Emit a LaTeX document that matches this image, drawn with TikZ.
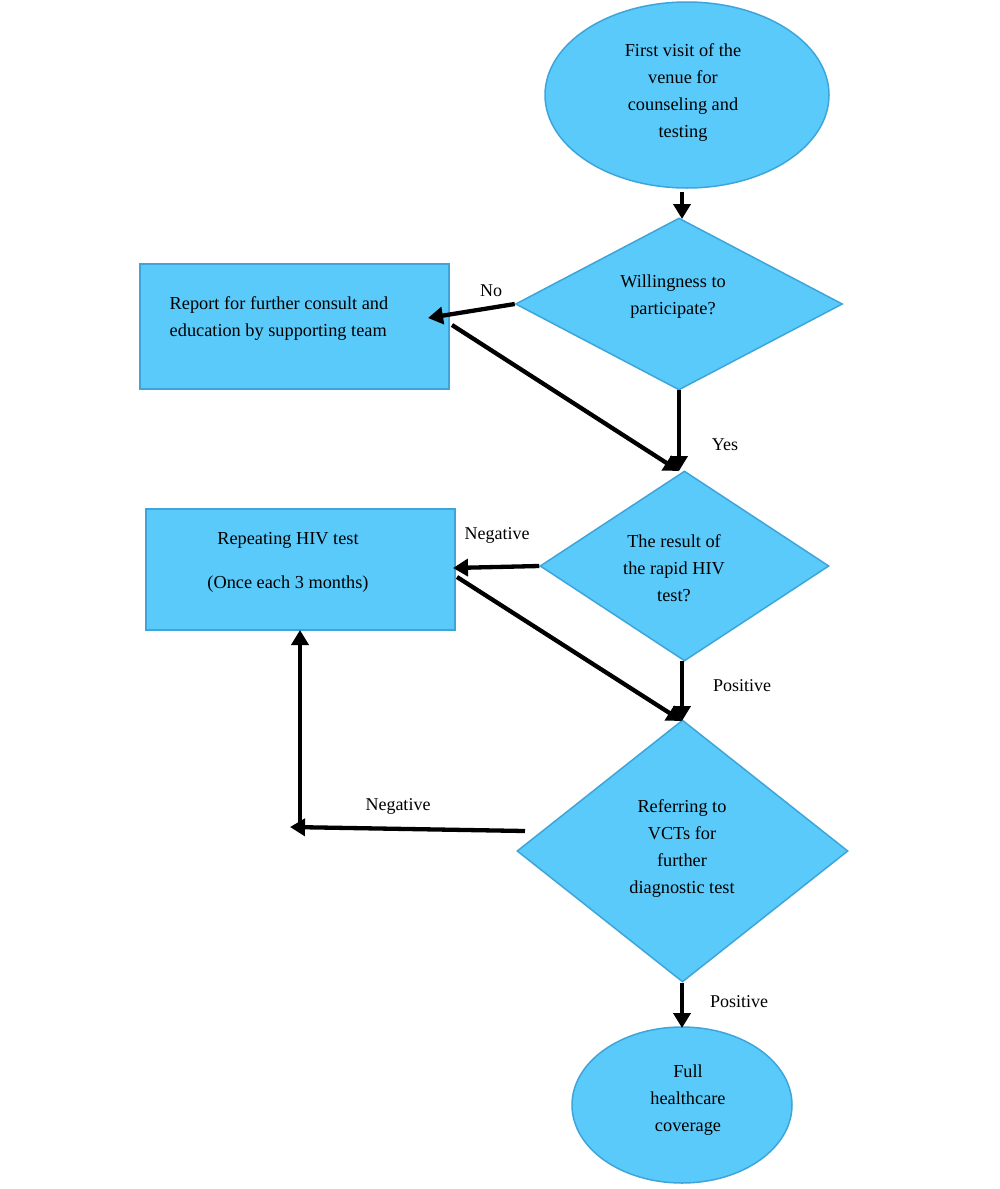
\documentclass[tikz,border=0pt]{standalone}
\usepackage{fontspec}
\setmainfont{Liberation Serif}
\usetikzlibrary{shapes.geometric,arrows.meta}
\definecolor{boxfill}{RGB}{90,202,250}
\definecolor{boxline}{RGB}{62,165,218}
\begin{document}
\begin{tikzpicture}[x=1pt,y=-1pt,
  shp/.style={fill=boxfill,draw=boxline,line width=1.5pt,inner sep=0pt},
  oval/.style={shp,ellipse},
  dia/.style={shp,diamond},
  rbox/.style={shp,rectangle},
  txt/.style={font=\fontsize{18.3}{27}\selectfont,align=center,inner sep=0pt},
  lbl/.style={font=\fontsize{18}{20}\selectfont,inner sep=0pt},
  arr/.style={line width=4.3pt,-{Triangle[length=15pt,width=17pt]}},
  ln/.style={line width=4.3pt}]
\useasboundingbox (0,0) rectangle (1000,1189);
% shapes
\node[oval,minimum width=284,minimum height=186] (e1) at (687,95) {};
\node[dia,minimum width=327,minimum height=172] (d1) at (679,304) {};
\node[rbox,minimum width=309,minimum height=125] (r1) at (294.5,326.5) {};
\node[dia,minimum width=289,minimum height=190] (d2) at (684.5,566) {};
\node[rbox,minimum width=309,minimum height=121] (r2) at (300.5,569.5) {};
\node[dia,minimum width=331,minimum height=262] (d3) at (682.5,851) {};
\node[oval,minimum width=220,minimum height=156] (e2) at (682,1105) {};
% texts
\node[txt] (t1) at (683,93) {First visit of the\\venue for\\counseling and\\testing};
\node[txt] (t2) at (673,297) {Willingness to\\participate?};
\node[txt,align=left] (t3) at (279,319) {Report for further consult and\\education by supporting team};
\node[txt] (t4) at (674,568) {The result of\\the rapid HIV\\test?};
\node[txt,font=\fontsize{18.3}{44}\selectfont] (t5) at (288,562) {Repeating HIV test\\(Once each 3 months)};
\node[txt] (t6) at (682,849) {Referring to\\VCTs for\\further\\diagnostic test};
\node[txt] (t7) at (688,1100) {Full\\healthcare\\coverage};
% labels
\node[lbl] (l1) at (491,291) {No};
\node[lbl] (l2) at (725,445) {Yes};
\node[lbl] (l3) at (497,535) {Negative};
\node[lbl] (l4) at (742,686) {Positive};
\node[lbl] (l5) at (398,806) {Negative};
\node[lbl] (l6) at (739,1002) {Positive};
% coordinates
\coordinate (c1) at (682,192);
\coordinate (c1e) at (682,219);
\coordinate (c2) at (428,318);
\coordinate (c3) at (452,325);
\coordinate (c4) at (679,471);
\coordinate (c4s) at (679,390);
\coordinate (c5) at (453,568);
\coordinate (c6) at (457,577);
\coordinate (c7) at (682,721);
\coordinate (c7s) at (682,661);
\coordinate (c8) at (525,831);
\coordinate (c9) at (290,827);
\coordinate (c10) at (300,829);
\coordinate (c11) at (300,630);
\coordinate (c12) at (682,983);
\coordinate (c13) at (682,1028);
% connectors
\draw[arr] (c1) -- (c1e);
\draw[arr] (d1.west) -- (c2);
\draw[arr] (c3) -- (c4);
\draw[arr] (c4s) -- (c4);
\draw[arr] (d2.west) -- (c5);
\draw[arr] (c6) -- (c7);
\draw[arr] (c7s) -- (c7);
\draw[arr] (c8) -- (c9);
\draw[arr] (c10) -- (c11);
\draw[arr] (c12) -- (c13);
\end{tikzpicture}
\end{document}
